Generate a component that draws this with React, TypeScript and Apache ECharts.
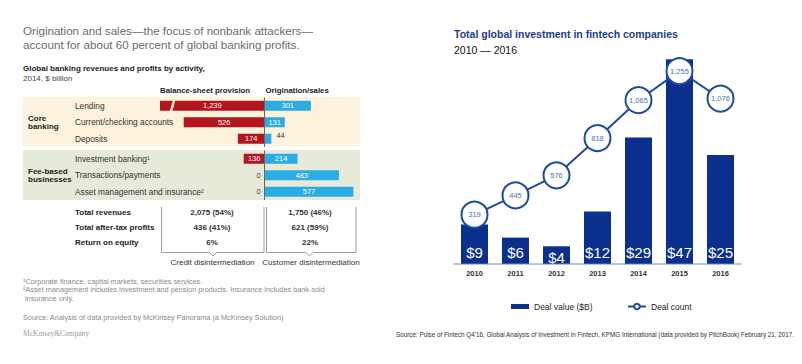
import React, { useEffect, useRef } from 'react';
import * as echarts from 'echarts';

// ---- Left panel data (McKinsey) ----
const coreCategories = ['Lending', 'Current/checking accounts', 'Deposits'];
const coreBalanceSheet = [1239, 526, 174];
const coreOrigination = [301, 131, 44];
const feeCategories = ['Investment banking¹', 'Transactions/payments', 'Asset management and insurance²'];
const feeBalanceSheet = [136, 0, 0];
const feeOrigination = [214, 483, 577];
const summaryLabels = ['Total revenues', 'Total after-tax profits', 'Return on equity'];
const summaryBalanceSheet = ['2,075 (54%)', '436 (41%)', '6%'];
const summaryOrigination = ['1,750 (46%)', '621 (59%)', '22%'];

// ---- Right panel data (KPMG) ----
const years = ['2010', '2011', '2012', '2013', '2014', '2015', '2016'];
const dealValue = [9, 6, 4, 12, 29, 47, 25];
const dealCount = [319, 445, 576, 818, 1065, 1255, 1076];

const F = '"Liberation Sans", Arial, Helvetica, sans-serif';
const RED = '#b5151f';
const BLUE = '#2aade3';
const NAVY = '#0a2f8c';
const LINE = '#1e4c9c';
const BEIGE = '#fdf3dc';
const GREEN = '#e7e9d9';

const fmt = (v: number) => Math.abs(v).toLocaleString('en-US');

function txt(text: string, x: number, y: number, o: any = {}) {
  return {
    type: 'text',
    x,
    y,
    z: 20,
    silent: true,
    style: {
      text,
      fill: o.fill || '#333',
      fontSize: o.size || 8,
      fontWeight: o.weight || 'normal',
      fontFamily: o.family || F,
      textAlign: o.align || 'left',
      align: o.align || 'left',
      textVerticalAlign: 'middle',
      verticalAlign: 'middle',
      lineHeight: o.lh,
    },
  };
}

function balanceData(vals: number[]) {
  return vals.map((v) =>
    v === 0
      ? { value: 0, label: { position: 'left', distance: 4, color: '#444' } }
      : { value: -v }
  );
}
function originationData(vals: number[]) {
  return vals.map((v) =>
    v < 60
      ? { value: v, label: { position: 'right', distance: 5, color: '#444', offset: [0, -3] } }
      : { value: v }
  );
}

const leftBarLabel = {
  show: true,
  position: 'inside',
  color: '#fff',
  fontSize: 7.5,
  fontFamily: F,
  formatter: (p: any) => fmt(p.value),
};

const divider = {
  silent: true,
  symbol: 'none',
  label: { show: false },
  lineStyle: { color: '#666', width: 1, type: 'solid' },
  data: [{ xAxis: 0 }],
};

export default function App() {
  const ref = useRef<HTMLDivElement>(null);
  useEffect(() => {
    if (!ref.current) return;
    const chart = echarts.init(ref.current, undefined, { renderer: 'svg' });

    const leftY = (gi: number, data: string[]) => ({
      gridIndex: gi,
      type: 'category',
      data,
      inverse: true,
      axisLine: { show: false },
      axisTick: { show: false },
      splitLine: { show: false },
      axisLabel: { align: 'left', margin: 85, fontSize: 8.3, color: '#333', fontFamily: F, interval: 0 },
    });

    const option: any = {
      animation: false,
      backgroundColor: '#fff',
      textStyle: { fontFamily: F },
      grid: [
        { left: 160, top: 97.5, width: 200, height: 49.5 },
        { left: 160, top: 150.5, width: 200, height: 49.5 },
        { left: 454, top: 46.2, width: 287, height: 217.5 },
      ],
      xAxis: [
        { gridIndex: 0, type: 'value', min: -680, max: 620, show: false },
        { gridIndex: 1, type: 'value', min: -680, max: 620, show: false },
        {
          gridIndex: 2,
          type: 'category',
          data: years,
          axisLine: { lineStyle: { color: '#9cb3da', width: 1.5 } },
          axisTick: { show: false },
          axisLabel: { fontSize: 7.5, fontWeight: 'bold', color: '#333', margin: 6, fontFamily: F },
        },
      ],
      yAxis: [
        leftY(0, coreCategories),
        leftY(1, feeCategories),
        { gridIndex: 2, type: 'value', min: 0, max: 50, show: false },
        { gridIndex: 2, type: 'value', min: 0, max: 1417, show: false },
      ],
      legend: [
        {
          data: ['Deal value ($B)'],
          left: 511,
          top: 302,
          padding: 0,
          itemWidth: 18,
          itemHeight: 5,
          icon: 'rect',
          selectedMode: false,
          textStyle: { fontSize: 8.5, color: '#222', fontFamily: F },
        },
        {
          data: ['Deal count'],
          left: 627,
          top: 302,
          padding: 0,
          itemWidth: 18,
          itemHeight: 7,
          selectedMode: false,
          textStyle: { fontSize: 8.5, color: '#222', fontFamily: F },
        },
      ],
      series: [
        {
          name: 'Balance-sheet provision',
          type: 'bar',
          xAxisIndex: 0,
          yAxisIndex: 0,
          stack: 'core',
          barWidth: 10,
          clip: true,
          itemStyle: { color: RED },
          label: leftBarLabel,
          data: balanceData(coreBalanceSheet),
        },
        {
          name: 'Origination/sales',
          type: 'bar',
          xAxisIndex: 0,
          yAxisIndex: 0,
          stack: 'core',
          barWidth: 10,
          itemStyle: { color: BLUE },
          label: leftBarLabel,
          data: originationData(coreOrigination),
          markLine: divider,
        },
        {
          name: 'Balance-sheet provision (fee)',
          type: 'bar',
          xAxisIndex: 1,
          yAxisIndex: 1,
          stack: 'fee',
          barWidth: 10,
          itemStyle: { color: RED },
          label: leftBarLabel,
          data: balanceData(feeBalanceSheet),
        },
        {
          name: 'Origination/sales (fee)',
          type: 'bar',
          xAxisIndex: 1,
          yAxisIndex: 1,
          stack: 'fee',
          barWidth: 10,
          itemStyle: { color: BLUE },
          label: leftBarLabel,
          data: originationData(feeOrigination),
          markLine: divider,
        },
        {
          name: 'Deal value ($B)',
          type: 'bar',
          xAxisIndex: 2,
          yAxisIndex: 2,
          barWidth: 27,
          itemStyle: { color: NAVY },
          label: {
            show: true,
            position: 'insideBottom',
            distance: 4,
            color: '#fff',
            fontSize: 15,
            fontFamily: F,
            formatter: (p: any) => '$' + p.value,
          },
          data: dealValue.map((v) => (v < 5 ? { value: v, label: { offset: [0, 5] } } : v)),
        },
        {
          name: 'Deal count',
          type: 'line',
          xAxisIndex: 2,
          yAxisIndex: 3,
          z: 5,
          symbol: 'circle',
          symbolSize: 26,
          lineStyle: { color: LINE, width: 2 },
          itemStyle: { color: '#fff', borderColor: LINE, borderWidth: 2 },
          label: {
            show: true,
            position: 'inside',
            color: '#4872b6',
            fontSize: 7.5,
            fontFamily: F,
            formatter: (p: any) => fmt(p.value),
          },
          data: dealCount,
        },
      ],
      graphic: {
        elements: [
          // backgrounds
          { type: 'rect', z: -1, silent: true, shape: { x: 23, y: 97, width: 337, height: 49 }, style: { fill: BEIGE } },
          { type: 'rect', z: -1, silent: true, shape: { x: 23, y: 150, width: 337, height: 50 }, style: { fill: GREEN } },
          // axis break in Lending bar
          {
            type: 'polygon',
            z: 30,
            silent: true,
            shape: { points: [[169.5, 112], [172, 112], [175.5, 100], [173, 100]] },
            style: { fill: BEIGE },
          },
          // left titles
          txt('Origination and sales\u2014the focus of nonbank attackers\u2014', 23, 30, { size: 11.6, fill: '#6b6b6b' }),
          txt('account for about 60 percent of global banking profits.', 23, 44.5, { size: 11.6, fill: '#6b6b6b' }),
          txt('Global banking revenues and profits by activity,', 23, 68, { size: 8, weight: 'bold', fill: '#222' }),
          txt('2014, $ billion', 23, 78, { size: 8, fill: '#444' }),
          txt('Balance-sheet provision', 160, 90, { size: 7.8, weight: 'bold', fill: '#222' }),
          txt('Origination/sales', 265.5, 90, { size: 7.8, weight: 'bold', fill: '#222' }),
          txt('Core\nbanking', 28, 122.5, { size: 8, weight: 'bold', fill: '#222', lh: 8.5 }),
          txt('Fee-based\nbusinesses', 28, 175.5, { size: 8, weight: 'bold', fill: '#222', lh: 8.5 }),
          // summary table
          ...summaryLabels.map((s, i) => txt(s, 75, 212 + i * 15, { size: 8, weight: 'bold', fill: '#222' })),
          ...summaryBalanceSheet.map((s, i) => txt(s, 212, 212 + i * 15, { size: 8, weight: 'bold', fill: '#333', align: 'center' })),
          ...summaryOrigination.map((s, i) => txt(s, 310, 212 + i * 15, { size: 8, weight: 'bold', fill: '#333', align: 'center' })),
          {
            type: 'polyline',
            silent: true,
            shape: { points: [[161.5, 207], [161.5, 252.5], [209.5, 252.5], [213, 256], [216.5, 252.5], [264, 252.5], [264, 207]] },
            style: { stroke: '#9a9a9a', lineWidth: 1, fill: 'none' },
          },
          {
            type: 'polyline',
            silent: true,
            shape: { points: [[266.5, 207], [266.5, 252.5], [306, 252.5], [309.5, 256], [313, 252.5], [356, 252.5], [356, 207]] },
            style: { stroke: '#9a9a9a', lineWidth: 1, fill: 'none' },
          },
          txt('Credit disintermediation', 212.5, 262, { size: 8, fill: '#333', align: 'center' }),
          txt('Customer disintermediation', 311, 262, { size: 8, fill: '#333', align: 'center' }),
          // footnotes
          txt('\u00b9Corporate finance, capital markets, securities services.', 23, 281, { size: 7.3, fill: '#8a8a8a' }),
          txt('\u00b2Asset management includes investment and pension products. Insurance includes bank-sold', 23, 289.5, { size: 7.3, fill: '#8a8a8a' }),
          txt('insurance only.', 25, 298, { size: 7.3, fill: '#8a8a8a' }),
          txt('Source: Analysis of data provided by McKinsey Panorama (a McKinsey Solution)', 23, 317, { size: 7.3, fill: '#8a8a8a' }),
          txt('McKinsey&Company', 23, 333, { size: 7.5, fill: '#9a9a9a', family: '"Liberation Serif", "DejaVu Serif", serif' }),
          // right titles
          txt('Total global investment in fintech companies', 454, 34, { size: 10.5, weight: 'bold', fill: '#1f3c88' }),
          txt('2010 \u2014 2016', 454, 50, { size: 10.5, fill: '#111' }),
          txt(
            "Source: Pulse of Fintech Q4'16, Global Analysis of Investment in Fintech, KPMG International (data provided by PitchBook) February 21, 2017.",
            396,
            334,
            { size: 6.3, fill: '#333' }
          ),
        ],
      },
    };

    chart.setOption(option);
    return () => chart.dispose();
  }, []);

  return (
    <div
      ref={ref}
      style={{ position: 'fixed', left: 0, top: 0, width: 802, height: 364, background: '#fff' }}
    />
  );
}
